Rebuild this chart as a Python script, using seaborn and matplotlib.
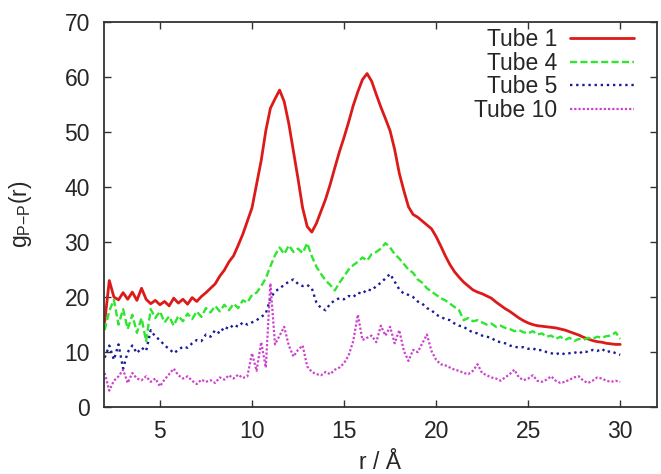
import numpy as np
import pandas as pd
import seaborn as sns
import matplotlib.pyplot as plt

# radial grid (Angstrom) and g(r)
r = [2.0, 2.25, 2.5, 2.75, 3.0, 3.25, 3.5, 3.75, 4.0, 4.25, 4.5, 4.75,
     5.0, 5.25, 5.5, 5.75, 6.0, 6.25, 6.5, 6.75, 7.0, 7.25, 7.5, 7.75,
     8.0, 8.25, 8.5, 8.75, 9.0, 9.25, 9.5, 9.75, 10.0, 10.25, 10.5, 10.75,
     11.0, 11.25, 11.5, 11.75, 12.0, 12.25, 12.5, 12.75, 13.0, 13.25, 13.5, 13.75,
     14.0, 14.25, 14.5, 14.75, 15.0, 15.25, 15.5, 15.75, 16.0, 16.25, 16.5, 16.75,
     17.0, 17.25, 17.5, 17.75, 18.0, 18.25, 18.5, 18.75, 19.0, 19.25, 19.5, 19.75,
     20.0, 20.25, 20.5, 20.75, 21.0, 21.25, 21.5, 21.75, 22.0, 22.25, 22.5, 22.75,
     23.0, 23.25, 23.5, 23.75, 24.0, 24.25, 24.5, 24.75, 25.0, 25.25, 25.5, 25.75,
     26.0, 26.25, 26.5, 26.75, 27.0, 27.25, 27.5, 27.75, 28.0, 28.25, 28.5, 28.75,
     29.0, 29.25, 29.5, 29.75, 30.0]

tube1 = [15.5, 23.0, 20.0, 19.5, 20.8, 19.6, 20.9, 19.4, 21.6, 19.6, 18.8, 19.4,
         18.6, 19.2, 18.4, 19.8, 18.9, 19.6, 18.7, 19.9, 19.2, 20.1, 20.8, 21.6,
         22.4, 23.8, 24.9, 26.4, 27.5, 29.4, 31.4, 33.8, 36.2, 40.5, 44.8, 50.2,
         54.3, 56.0, 57.6, 55.5, 51.5, 46.5, 41.5, 36.2, 32.8, 31.8, 33.4, 35.6,
         37.8, 40.5, 43.5, 46.4, 49.0, 51.8, 54.8, 57.3, 59.5, 60.6, 59.2, 56.8,
         54.5, 52.4, 50.2, 46.8, 42.5, 39.3, 36.4, 35.0, 34.5, 33.8, 33.1, 32.4,
         31.0, 29.3, 27.5, 25.9, 24.6, 23.6, 22.7, 22.0, 21.3, 20.9, 20.6, 20.2,
         19.8, 19.1, 18.5, 17.9, 17.4, 16.8, 16.2, 15.7, 15.3, 15.0, 14.8, 14.7,
         14.6, 14.5, 14.4, 14.2, 14.0, 13.7, 13.4, 13.1, 12.7, 12.4, 12.1, 11.9,
         11.8, 11.6, 11.5, 11.4, 11.4]

tube4 = [14.0, 17.5, 19.5, 15.0, 17.8, 14.2, 16.8, 13.5, 16.2, 12.0, 17.8, 16.2,
         17.4, 15.4, 16.5, 14.8, 16.6, 15.6, 17.0, 16.0, 17.4, 16.4, 18.0, 17.2,
         18.4, 17.4, 18.6, 17.6, 18.8, 18.0, 19.4, 19.0, 20.4, 20.8, 22.0, 23.4,
         25.6, 27.6, 29.0, 27.8, 29.4, 28.2, 28.8, 28.0, 29.8, 27.4, 25.5, 24.2,
         23.0, 22.2, 21.2, 22.6, 23.8, 25.0, 25.8, 26.4, 27.2, 26.6, 27.8, 28.2,
         28.8, 29.8, 29.0, 27.8, 27.0, 26.0, 25.0, 24.4, 23.2, 22.6, 21.6, 21.0,
         20.4, 19.8, 19.4, 18.8, 18.2, 17.6, 15.8, 16.2, 15.6, 15.8, 15.4, 15.0,
         15.2, 14.6, 14.8, 14.4, 14.2, 13.8, 14.0, 13.6, 13.4, 13.8, 13.2, 13.4,
         12.8, 13.0, 12.4, 12.8, 12.2, 12.6, 12.0, 12.4, 12.2, 12.6, 12.4, 12.8,
         12.6, 12.9, 13.0, 13.6, 12.4]

tube5 = [9.0, 11.2, 8.6, 11.4, 7.0, 10.0, 11.2, 9.8, 10.8, 10.2, 14.0, 12.8,
         12.2, 11.2, 10.6, 9.8, 10.4, 11.0, 10.8, 11.6, 12.2, 12.0, 13.2, 12.8,
         14.0, 13.4, 14.6, 14.2, 15.0, 14.6, 15.4, 15.0, 15.4, 15.8, 16.4, 17.0,
         19.8, 21.0, 21.6, 22.2, 22.8, 23.2, 22.4, 22.0, 22.2, 21.6, 19.0, 18.0,
         17.6, 18.8, 19.4, 19.8, 19.6, 20.2, 20.0, 20.8, 20.6, 21.4, 21.2, 22.0,
         22.6, 23.4, 24.2, 22.8, 21.4, 20.6, 20.4, 20.0, 19.2, 18.8, 18.0, 17.6,
         16.8, 16.4, 16.0, 15.8, 15.2, 14.8, 14.6, 14.0, 13.6, 13.4, 13.0, 12.8,
         12.6, 12.0, 11.8, 11.6, 11.2, 11.0, 10.8, 10.9, 10.6, 10.7, 10.3, 10.4,
         10.0, 9.8, 9.6, 9.9, 9.6, 9.8, 10.0, 9.7, 10.2, 10.0, 10.4, 10.2,
         10.6, 10.0, 10.2, 9.8, 9.5]

tube10 = [6.2, 3.0, 4.8, 5.6, 6.8, 4.4, 6.2, 5.2, 4.9, 5.6, 4.6, 5.2,
          3.8, 5.0, 6.0, 7.0, 5.8, 5.2, 5.6, 4.8, 4.2, 5.0, 4.6, 4.9,
          4.4, 5.4, 5.0, 5.8, 5.2, 5.9, 5.3, 5.6, 9.8, 6.6, 11.8, 7.2,
          22.5, 11.4, 13.0, 14.6, 11.2, 9.2, 10.4, 11.2, 7.4, 6.4, 6.0, 5.8,
          6.4, 6.0, 6.8, 7.2, 8.0, 9.4, 12.0, 16.8, 12.2, 12.6, 13.0, 11.8,
          14.8, 13.0, 14.6, 11.6, 14.0, 10.2, 8.4, 10.4, 10.0, 11.6, 13.2, 10.2,
          8.6, 7.8, 7.6, 7.2, 6.8, 6.6, 6.2, 6.0, 6.6, 7.8, 6.2, 5.8,
          5.4, 5.2, 4.8, 5.4, 6.0, 6.8, 5.4, 4.9, 5.2, 5.8, 4.8, 4.6,
          5.0, 5.6, 4.8, 4.4, 4.6, 5.0, 5.4, 5.6, 4.8, 4.4, 4.8, 5.4,
          5.2, 4.8, 4.6, 4.8, 4.6]

labels = ["Tube 1", "Tube 4", "Tube 5", "Tube 10"]
series = [tube1, tube4, tube5, tube10]
colors = ["#dd1a1a", "#2ee62e", "#1c1c96", "#cc44cc"]
dashes = [None, (3.0, 1.4), (1.0, 1.6), (1.0, 0.9)]
widths = [2.0, 1.7, 1.7, 1.6]

sns.set_style("ticks")
plt.rcParams['font.family'] = ['Liberation Sans', 'DejaVu Sans']
plt.rcParams['mathtext.fontset'] = 'custom'
plt.rcParams['mathtext.rm'] = 'Liberation Sans'
plt.rcParams['mathtext.it'] = 'Liberation Sans'

fig, ax = plt.subplots(figsize=(6.61, 4.74), dpi=100)
fig.subplots_adjust(left=0.157, right=0.994, top=0.954, bottom=0.141)

for lab, vals, c, d, w in zip(labels, series, colors, dashes, widths):
    sns.lineplot(x=r, y=vals, ax=ax, color=c, linewidth=w, label=lab,
                 estimator=None, sort=False)
    if d is not None:
        ax.lines[-1].set_dashes(d)

ax.set_xlim(1.95, 32)
ax.set_ylim(0, 70)
ax.set_xticks([5, 10, 15, 20, 25, 30])
ax.set_yticks(range(0, 71, 10))
ax.tick_params(direction='in', length=5, width=1.0, top=True, right=True,
               labelsize=16.5, color='#333333')
ax.tick_params(axis='x', pad=9)
ax.tick_params(axis='y', pad=10)
for s in ax.spines.values():
    s.set_linewidth(1.3)
    s.set_color('#333333')

ax.set_xlabel('r / Å', fontsize=16.5, labelpad=6)
ax.set_ylabel(r'$\mathregular{g_{P{-}P}(r)}$', fontsize=16.5, labelpad=22)

ax.legend(loc='upper right', bbox_to_anchor=(0.958, 0.983), frameon=False,
          markerfirst=False, fontsize=16.5, handlelength=2.8,
          handletextpad=0.55, labelspacing=0.02, borderpad=0.0,
          borderaxespad=0.0)

plt.savefig('out.png', dpi=100)
